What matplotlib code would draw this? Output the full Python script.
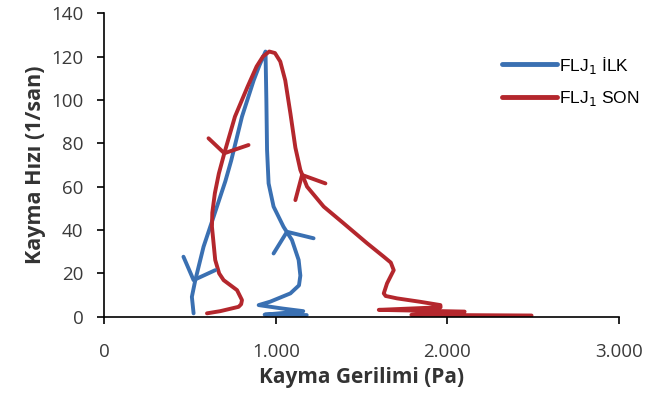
import matplotlib.pyplot as plt
import numpy as np

plt.rcParams['font.family'] = ['Open Sans', 'DejaVu Sans']

# FLJ1 İLK (blue): ascending branch, then descending branch
ilk_up_x = [1180, 935, 1160, 1040, 900, 968, 1085, 1135, 1143, 1133, 1094, 1045, 987, 958, 949, 945, 940]
ilk_up_y = [0.8, 1.0, 2.6, 3.8, 5.4, 7.0, 10.8, 14.5, 19, 26.2, 35.4, 41.5, 50.8, 61.5, 76.9, 100, 122.3]
ilk_down_x = [940, 905, 871, 803, 740, 706, 637, 579, 531, 511, 521]
ilk_down_y = [122.3, 116, 109, 92.3, 72, 62.5, 46, 32.3, 16.9, 9.2, 1.6]

# FLJ1 SON (red)
son_up_x = [2490, 1790, 2100, 1600, 1960, 1959, 1843, 1706, 1640, 1629, 1648, 1687, 1670, 1629,
            1532, 1395, 1279, 1182, 1143, 1114, 1085, 1055, 1026, 995, 962]
son_up_y = [0.6, 0.9, 2.4, 3.2, 4.4, 5.4, 6.9, 8.5, 9.6, 10.8, 15.4, 21.5, 25, 27.7,
            33.9, 43.1, 50.8, 60, 67.7, 78, 93.8, 109, 117.7, 121.6, 122.3]
son_down_x = [962, 925, 888, 835, 762, 700, 668, 645, 630, 628, 647, 670, 696, 774, 803, 798, 783, 676, 599]
son_down_y = [122.3, 120, 115.4, 106, 92.3, 75.4, 66, 57, 48, 41.5, 26.2, 20, 16.9, 12.3, 7.7, 5.8, 4.6, 2.6, 1.6]

# hand-drawn direction chevrons
ilk_arrows = [([462, 521, 647], [27.7, 16.9, 21.5]), ([987, 1065, 1220], [29.2, 39.2, 36.2])]
son_arrows = [([608, 700, 841], [82.3, 75.4, 79.2]), ([1114, 1153, 1289], [53.8, 65.4, 61.5])]

blue = '#3a70b2'
red = '#b4272d'

fig = plt.figure(figsize=(6.51, 3.98), dpi=100)
ax = fig.add_axes([0.16, 0.204, 0.791, 0.763])

ax.plot(ilk_up_x + ilk_down_x[1:], ilk_up_y + ilk_down_y[1:], color=blue, lw=2.8,
        solid_capstyle='round', solid_joinstyle='round', label='FLJ$_1$ İLK')
ax.plot(son_up_x + son_down_x[1:], son_up_y + son_down_y[1:], color=red, lw=2.8,
        solid_capstyle='round', solid_joinstyle='round', label='FLJ$_1$ SON')
for xs, ys in ilk_arrows:
    ax.plot(xs, ys, color=blue, lw=2.8, solid_capstyle='round')
for xs, ys in son_arrows:
    ax.plot(xs, ys, color=red, lw=2.8, solid_capstyle='round')

ax.set_xlim(0, 3000)
ax.set_ylim(0, 140)
ax.set_xticks([0, 1000, 2000, 3000])
ax.set_xticklabels(['0', '1.000', '2.000', '3.000'])
ax.set_yticks(np.arange(0, 141, 20))
ax.spines['top'].set_visible(False)
ax.spines['right'].set_visible(False)
for s in ['left', 'bottom']:
    ax.spines[s].set_linewidth(1.2)
ax.tick_params(direction='out', length=5, width=1.2, labelsize=13.5, labelcolor='#3a3a3a')
ax.tick_params(axis='x', pad=14)
ax.tick_params(axis='y', pad=10)

ax.set_xlabel('Kayma Gerilimi (Pa)', fontsize=15, fontweight='bold', color='#333333', labelpad=4)
ax.set_ylabel('Kayma Hızı (1/san)', fontsize=15.5, fontweight='bold', color='#333333', labelpad=4)

leg = ax.legend(loc='upper right', bbox_to_anchor=(1.07, 0.915), frameon=False,
                handlelength=3.2, labelspacing=0.75, handletextpad=0.1,
                prop={'family': 'Liberation Sans', 'size': 12.5})
for line in leg.get_lines():
    line.set_linewidth(3.5)

fig.savefig('out.png', dpi=100)
